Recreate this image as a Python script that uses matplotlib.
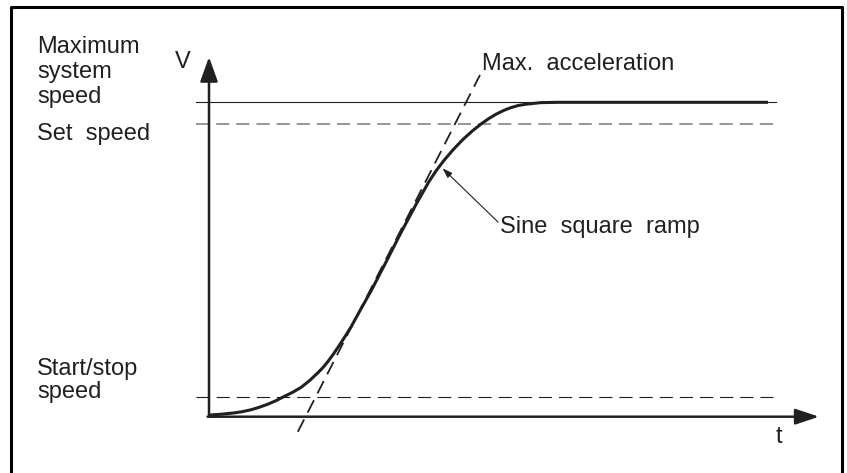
import matplotlib.pyplot as plt
from matplotlib.lines import Line2D

plt.rcParams['font.family'] = ['Liberation Sans', 'DejaVu Sans']
plt.rcParams['lines.scale_dashes'] = False

INK = '#231f20'

# sine square ramp (t: ramp time units, v: fraction of max speed)
t_curve = [0.000, 0.036, 0.072, 0.096, 0.121, 0.145, 0.170, 0.193, 0.216, 0.240,
           0.265, 0.290, 0.314, 0.329, 0.343, 0.359, 0.375, 0.392, 0.409, 0.438,
           0.467, 0.513, 0.553, 0.597, 0.616, 0.634, 0.655, 0.677, 0.705, 0.732,
           0.758, 0.784, 0.806, 0.827, 0.849, 0.870, 0.892, 0.914, 0.957, 1.006,
           1.611]
v_curve = [0.005, 0.008, 0.012, 0.016, 0.022, 0.030, 0.040, 0.051, 0.064, 0.077,
           0.093, 0.115, 0.140, 0.157, 0.176, 0.200, 0.226, 0.255, 0.285, 0.343,
           0.400, 0.498, 0.585, 0.676, 0.713, 0.748, 0.783, 0.815, 0.851, 0.882,
           0.908, 0.931, 0.948, 0.962, 0.974, 0.983, 0.990, 0.994, 0.999, 1.000,
           1.000]

# tangent at the inflection point (max. acceleration)
tangent_t = [0.256, 0.781]
tangent_v = [-0.048, 1.087]

# speed levels
v_max = 1.0
v_set = 0.931
v_start = 0.064
level_t = [-0.037, 1.634]

# axis ends
t_tip = 1.758
v_tip = 1.144

# pixel helpers (figure is 847x473 px at 100 dpi)
W, H = 847, 473
def fx(x):
    return x / W
def fy(y):
    return 1 - y / H

fig = plt.figure(figsize=(8.47, 4.73), dpi=100)
ax = fig.add_axes([0, 0, 1, 1])
sx, sy = 347.0, 314.4
ox, oy = 209.0, 416.7
ax.set_xlim(-ox / sx, (W - ox) / sx)
ax.set_ylim(-(H - oy) / sy, oy / sy)
ax.axis('off')

# frame (open at the bottom)
fig.add_artist(Line2D([fx(11), fx(11), fx(842), fx(842)], [0, fy(7.5), fy(7.5), 0],
                      transform=fig.transFigure, color='black', lw=2.2))

# speed levels
ax.plot(level_t, [v_max, v_max], color=INK, lw=0.8)
ax.plot(level_t, [v_set, v_set], color='#7a7a7a', lw=1.1, dashes=(9.5, 5))
ax.plot(level_t, [v_start, v_start], color=INK, lw=0.8, dashes=(9.5, 5))

# axes with arrows
ax.annotate('', xy=(0, v_tip), xytext=(0, 0),
            arrowprops=dict(arrowstyle='-|>,head_length=0.75,head_width=0.27',
                            mutation_scale=20, lw=1.8, color=INK,
                            shrinkA=0, shrinkB=0))
ax.annotate('', xy=(t_tip, 0), xytext=(-0.004, 0),
            arrowprops=dict(arrowstyle='-|>,head_length=0.72,head_width=0.24',
                            mutation_scale=20, lw=1.8, color=INK,
                            shrinkA=0, shrinkB=0))

# tangent and ramp
ax.plot(tangent_t, tangent_v, color=INK, lw=1.3, dashes=(10, 5.5))
ax.plot(t_curve, v_curve, color=INK, lw=2.2, solid_capstyle='butt',
        solid_joinstyle='round')

# pointer to the ramp
ax.annotate('', xy=(0.673, 0.790), xytext=(0.833, 0.619),
            arrowprops=dict(arrowstyle='-|>,head_length=0.6,head_width=0.2',
                            mutation_scale=10, lw=0.8, color=INK,
                            shrinkA=0, shrinkB=0))

fs = 17
tk = dict(fontsize=fs, color=INK, va='baseline', ha='left')
fig.text(fx(37), fy(53), 'Maximum', **tk)
fig.text(fx(37), fy(78), 'system', **tk)
fig.text(fx(37), fy(103), 'speed', **tk)
fig.text(fx(37), fy(140), 'Set  speed', **tk)
fig.text(fx(37), fy(375), 'Start/stop', **tk)
fig.text(fx(37), fy(398), 'speed', **tk)
fig.text(fx(175), fy(68), 'V', **tk)
fig.text(fx(776), fy(443), 't', **tk)
fig.text(fx(482), fy(70), 'Max.  acceleration', **tk)
fig.text(fx(500), fy(233), 'Sine  square  ramp', **tk)

fig.savefig('out.png', dpi=100)
